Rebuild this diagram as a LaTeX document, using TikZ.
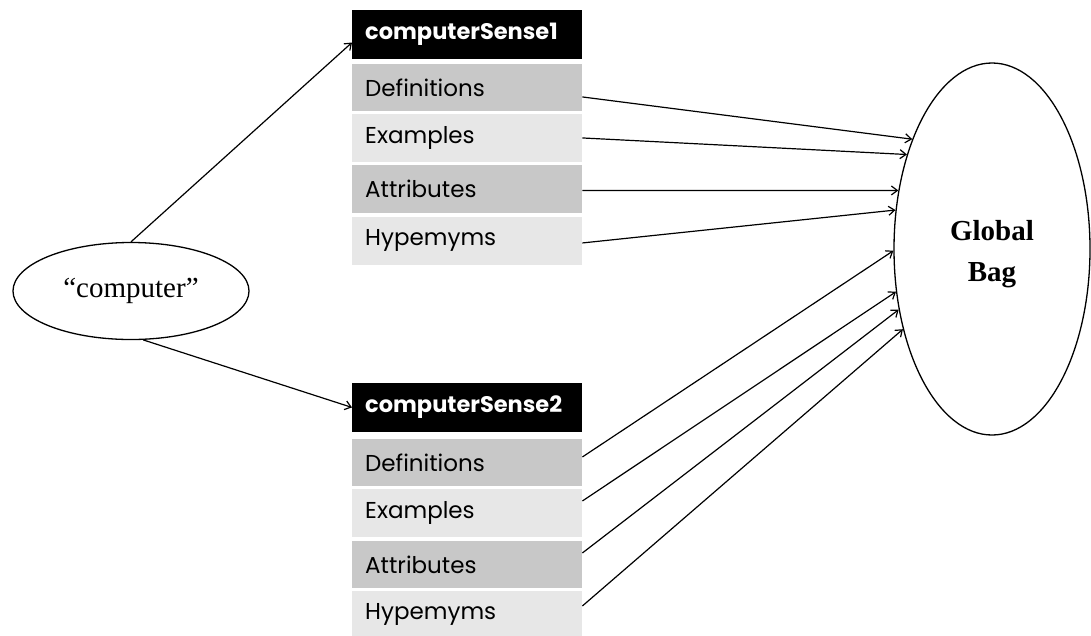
\documentclass[tikz,border=0pt]{standalone}
\usepackage{fontspec}
\setmainfont{Liberation Serif}
\newfontfamily\gothic{Poppins}
\usetikzlibrary{shapes.geometric,arrows.meta,calc}
\definecolor{rowdark}{RGB}{200,200,200}
\definecolor{rowlight}{RGB}{231,231,231}
\begin{document}
\begin{tikzpicture}[x=1pt,y=-1pt,
  cell/.style={rectangle, anchor=north west, minimum width=230pt, text width=204pt,
    inner xsep=13pt, inner ysep=0pt, align=left, font=\gothic\fontsize{23}{26}\selectfont},
  headcell/.style={cell, fill=black, text=white, minimum height=48.5pt,
    font=\gothic\bfseries\fontsize{22.5}{26}\selectfont},
  darkcell/.style={cell, fill=rowdark, minimum height=47.5pt},
  lightcell/.style={cell, fill=rowlight, minimum height=48.5pt},
  oval/.style={ellipse, draw, line width=1.3pt, inner sep=0pt},
  link/.style={line width=1.2pt, -{Straight Barb[length=6pt,width=9pt,line width=1.2pt]}}
]
\useasboundingbox (0,0) rectangle (1091,635);

% word node
\node[oval, minimum width=236pt, minimum height=97pt,
  font=\fontsize{29}{32}\selectfont] (word) at (131,291) {“computer”};

% first sense
\node[headcell]  (h1) at (352,10)  {computerSense1};
\node[darkcell]  (d1) at (352,63.5)  {Definitions};
\node[lightcell] (e1) at (352,113.5) {Examples};
\node[darkcell]  (a1) at (352,165) {Attributes};
\node[lightcell] (y1) at (352,216.5) {Hypemyms};

% second sense
\node[headcell]  (h2) at (352,383) {computerSense2};
\node[darkcell]  (d2) at (352,438.5) {Definitions};
\node[lightcell] (e2) at (352,488.5) {Examples};
\node[darkcell]  (a2) at (352,540.5) {Attributes};
\node[lightcell] (y2) at (352,590.5) {Hypemyms};

% global bag (strut on the first line lowers the two-line label a little)
\node[oval, minimum width=196pt, minimum height=372pt, align=center,
  font=\bfseries\fontsize{29}{41}\selectfont] (bag) at (992,249) {\rule{0pt}{31pt}Global\\Bag};

% word to senses
\draw[link] (word.north) -- (h1.184.5);
\draw[link] (word.-76) -- (h2.west);

% senses to bag
\draw[link] ($(d1.east)+(0,9.5)$) -- (bag.126.2);
\draw[link] (e1.east) -- (bag.132);
\draw[link] ($(a1.east)+(0,1.5)$) -- (bag.148.2);
\draw[link] ($(y1.east)+(0,2)$) -- (bag.158.1);
\draw[link] ($(d2.east)+(0,-5.5)$) -- (bag.181.7);
\draw[link] ($(e2.east)+(0,-12)$) -- (bag.204);
\draw[link] ($(a2.east)+(0,-11.5)$) -- (bag.213.5);
\draw[link] ($(y2.east)+(0,-9)$) -- (bag.222.1);
\end{tikzpicture}
\end{document}
